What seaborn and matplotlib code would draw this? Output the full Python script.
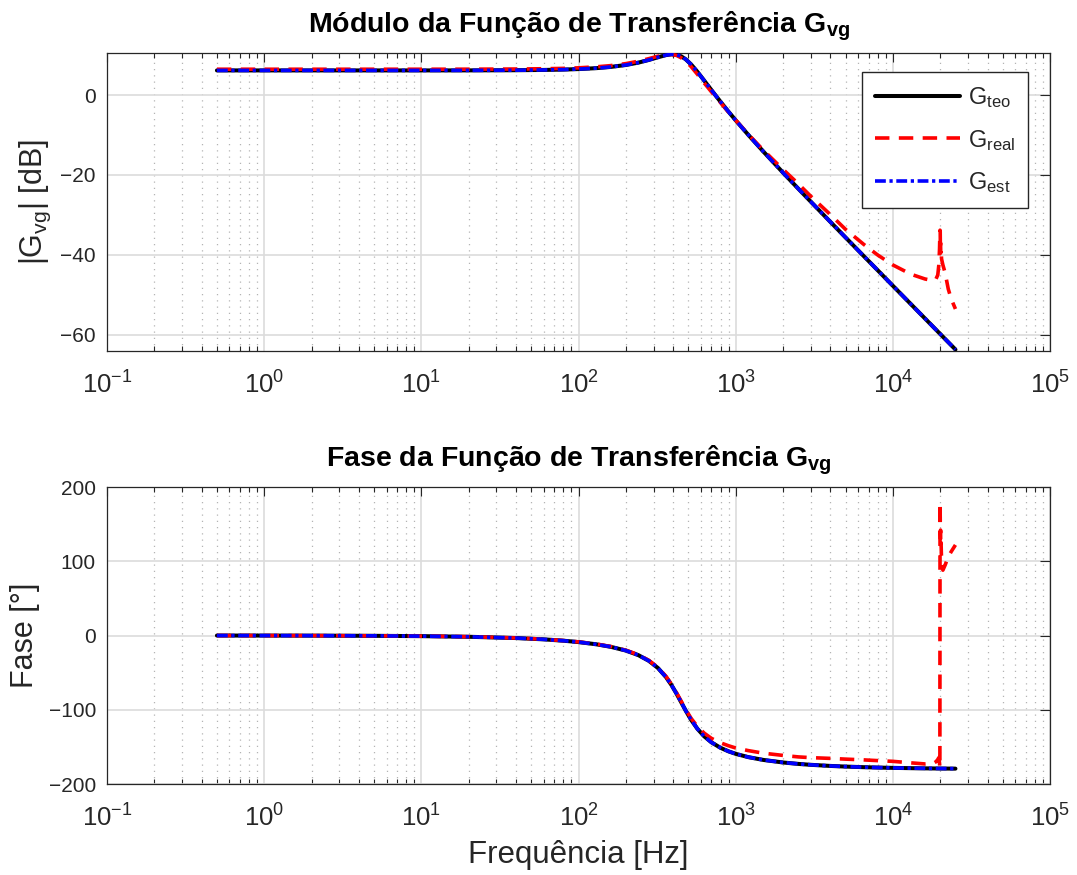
import matplotlib
matplotlib.use("Agg")
import matplotlib.pyplot as plt
import matplotlib.ticker as mticker
import seaborn as sns
import pandas as pd

# ---------------- data ----------------
freq = [0.5, 1, 2, 5, 10, 20, 40, 60, 80, 100, 130, 160, 200, 240, 280, 320, 360,
        390, 420, 450, 480, 520, 570, 630, 700, 800, 900, 1000, 1200, 1500, 2000,
        2500, 3000, 4000, 5000, 6500, 8000, 10000, 13000, 16000, 20000, 25000]

mag_teo = [6.15, 6.15, 6.15, 6.15, 6.15, 6.16, 6.20, 6.27, 6.36, 6.49, 6.72, 7.02,
           7.51, 8.10, 8.77, 9.44, 9.98, 10.18, 10.09, 9.67, 8.95, 7.66, 5.82, 3.61,
           1.25, -1.68, -4.18, -6.33, -9.93, -14.15, -19.42, -23.42, -26.65, -31.72,
           -35.63, -40.21, -43.82, -47.71, -52.27, -55.88, -59.76, -63.64]
ph_teo = [-0.04, -0.08, -0.17, -0.42, -0.85, -1.70, -3.42, -5.17, -6.98, -8.86,
          -11.87, -15.18, -20.27, -26.42, -34.09, -43.80, -55.98, -66.70, -78.30,
          -90.00, -100.97, -113.52, -125.59, -135.81, -143.86, -151.25, -156.04,
          -159.38, -163.78, -167.60, -171.02, -172.93, -174.16, -175.66, -176.54,
          -177.34, -177.85, -178.28, -178.68, -178.93, -179.14, -179.31]

mag_est = [6.15, 6.15, 6.15, 6.15, 6.15, 6.16, 6.20, 6.27, 6.36, 6.49, 6.72, 7.02,
           7.51, 8.10, 8.77, 9.44, 9.98, 10.18, 10.09, 9.67, 8.95, 7.66, 5.82, 3.61,
           1.25, -1.68, -4.18, -6.33, -9.93, -14.15, -19.42, -23.42, -26.65, -31.72,
           -35.63, -40.21, -43.82, -47.71, -52.27, -55.88, -59.76, -63.64]
ph_est = [-0.04, -0.08, -0.17, -0.42, -0.85, -1.70, -3.42, -5.17, -6.98, -8.86,
          -11.87, -15.18, -20.27, -26.42, -34.09, -43.80, -55.98, -66.70, -78.30,
          -90.00, -100.97, -113.52, -125.59, -135.81, -143.86, -151.25, -156.04,
          -159.38, -163.78, -167.60, -171.02, -172.93, -174.16, -175.66, -176.54,
          -177.34, -177.85, -178.28, -178.68, -178.93, -179.14, -179.31]

freq_real = [0.5, 1, 2, 5, 10, 20, 40, 60, 80, 100, 130, 160, 200, 240, 280, 320, 360,
             390, 420, 450, 480, 520, 570, 630, 700, 800, 900, 1000, 1200, 1500, 2000,
             2500, 3000, 4000, 5000, 6500, 8000, 10000, 13000, 16000, 18000, 18800,
             19300, 19600, 19800, 19900, 19950, 20000, 20050, 20100, 20150, 20250,
             20400, 20800, 21500, 22500, 23500, 25000]
mag_real = [6.45, 6.45, 6.45, 6.45, 6.45, 6.46, 6.50, 6.57, 6.66, 6.80, 7.05, 7.35,
            7.85, 8.45, 9.10, 9.70, 10.10, 10.15, 9.90, 9.30, 8.50, 7.10, 5.20, 3.00,
            0.80, -1.90, -4.30, -6.30, -9.80, -13.80, -18.60, -22.20, -25.30, -29.90,
            -33.60, -37.30, -40.00, -42.50, -44.80, -46.00, -46.40, -46.00, -45.00,
            -42.50, -38.50, -35.00, -33.80, -34.20, -38.50, -37.00, -39.50, -38.50,
            -41.00, -42.50, -44.50, -48.50, -51.00, -53.50]
ph_real = [-0.03, -0.07, -0.15, -0.40, -0.80, -1.60, -3.30, -5.00, -6.80, -8.60,
           -11.50, -14.80, -19.80, -25.90, -33.50, -43.00, -55.00, -65.50, -77.00,
           -88.50, -99.50, -111.50, -122.50, -131.50, -138.50, -144.50, -148.50,
           -151.50, -155.00, -158.50, -161.50, -163.50, -164.50, -165.50, -166.50,
           -167.50, -168.50, -169.50, -171.50, -173.00, -172.50, -170.00, -167.00,
           -164.50, -172.00, -178.00, 179.00, 160.00, 138.00, 142.00, 120.00, 125.00,
           100.00, 88.00, 95.00, 106.00, 113.00, 122.00]

legend_labels = [r"G$_{\mathrm{teo}}$", r"G$_{\mathrm{real}}$", r"G$_{\mathrm{est}}$"]
xtick_vals = [1e-1, 1e0, 1e1, 1e2, 1e3, 1e4, 1e5]
ytick_mag = [-60, -40, -20, 0]
ytick_ph = [-200, -100, 0, 100, 200]

# ---------------- style ----------------
sns.set_style("white")
plt.rcParams["font.family"] = ["Liberation Sans", "DejaVu Sans"]
plt.rcParams["mathtext.fontset"] = "custom"
plt.rcParams["mathtext.rm"] = "Liberation Sans"
plt.rcParams["mathtext.it"] = "Liberation Sans:italic"
plt.rcParams["mathtext.bf"] = "Liberation Sans:bold"

AX_COL = "#262626"

fig = plt.figure(figsize=(10.77, 8.75), dpi=100)
ax1 = fig.add_axes([0.0994, 0.5989, 0.8756, 0.3405])
ax2 = fig.add_axes([0.0994, 0.1040, 0.8756, 0.3394])

df_teo = pd.DataFrame({"f": freq, "mag": mag_teo, "ph": ph_teo})
df_est = pd.DataFrame({"f": freq, "mag": mag_est, "ph": ph_est})
df_real = pd.DataFrame({"f": freq_real, "mag": mag_real, "ph": ph_real})

LW = 2.6
for ax, col in [(ax1, "mag"), (ax2, "ph")]:
    sns.lineplot(data=df_teo, x="f", y=col, ax=ax, color="black", lw=LW + 0.3,
                 estimator=None, sort=False, label=legend_labels[0], zorder=3)
    sns.lineplot(data=df_real, x="f", y=col, ax=ax, color="#ff0000", lw=LW,
                 estimator=None, sort=False, label=legend_labels[1], zorder=4)
    sns.lineplot(data=df_est, x="f", y=col, ax=ax, color="#0000ff", lw=LW,
                 estimator=None, sort=False, label=legend_labels[2], zorder=5)
    lines = ax.get_lines()
    lines[1].set_dashes((4.0, 2.6))
    lines[2].set_dashes((3.0, 1.0, 0.9, 1.0))

    ax.set_xscale("log")
    ax.set_xlim(1e-1, 1e5)
    ax.set_xticks(xtick_vals)
    ax.xaxis.set_major_formatter(mticker.LogFormatterSciNotation())
    ax.xaxis.set_minor_locator(mticker.LogLocator(base=10, subs=range(2, 10), numticks=100))
    ax.xaxis.set_minor_formatter(mticker.NullFormatter())
    ax.grid(True, which="major", color="#dcdcdc", lw=1.2, zorder=0)
    ax.grid(True, which="minor", axis="x", color="#b4b4b4", lw=0.9, ls=(0, (1, 4)), zorder=0)
    ax.set_axisbelow(True)
    ax.tick_params(axis="both", which="major", direction="in", top=True, right=True,
                   colors=AX_COL, length=6.5, width=0.8)
    ax.tick_params(axis="y", which="major", labelsize=15, length=7, pad=8)
    ax.tick_params(axis="x", which="major", labelsize=18.5, pad=15)
    ax.tick_params(axis="x", which="minor", direction="in", top=True, bottom=True,
                   length=3.6, width=0.8, colors=AX_COL)
    for s in ax.spines.values():
        s.set_color(AX_COL)
        s.set_linewidth(0.9)
    ax.set_xlabel("")

ax1.set_ylim(-64, 10.5)
ax1.set_yticks(ytick_mag)
ax2.set_ylim(-200, 200)
ax2.set_yticks(ytick_ph)

ax1.set_ylabel(r"|G$_{\mathrm{vg}}$| [dB]", fontsize=22, color=AX_COL, labelpad=5)
ax2.set_ylabel("Fase [°]", fontsize=22, color=AX_COL, labelpad=6)
ax2.set_xlabel("Frequência [Hz]", fontsize=22.5, color=AX_COL, labelpad=6)

ax1.set_title(r"Módulo da Função de Transferência $\mathbf{G}_{\mathbf{vg}}$",
              fontsize=20.5, fontweight="bold", color="black", pad=15)
ax2.set_title(r"Fase da Função de Transferência $\mathbf{G}_{\mathbf{vg}}$",
              fontsize=20.5, fontweight="bold", color="black", pad=15)

leg = ax1.legend(loc="upper right", bbox_to_anchor=(0.9767, 0.936), fontsize=17,
                 frameon=True, fancybox=False, edgecolor=AX_COL, framealpha=1,
                 handlelength=3.6, labelspacing=0.75, borderpad=0.55, handletextpad=0.35,
                 borderaxespad=0)
leg.get_frame().set_linewidth(1.0)
ax2.get_legend().remove()

fig.savefig("out.png", dpi=100)
